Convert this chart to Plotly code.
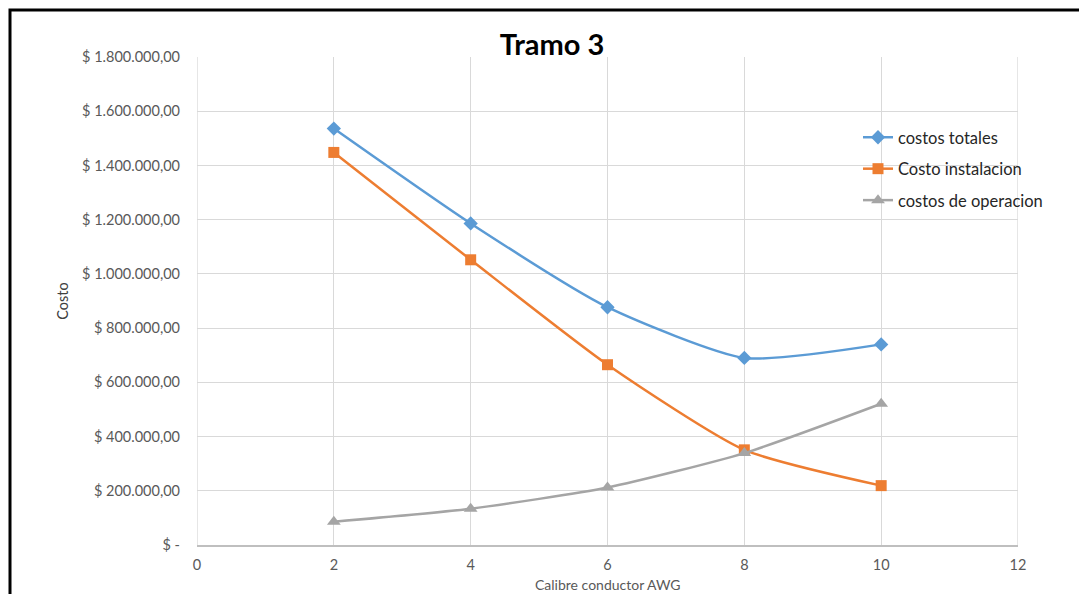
import plotly.graph_objects as go

calibre = [2, 4, 6, 8, 10]
costos_totales = [1536000, 1186000, 877000, 690000, 740000]
costo_instalacion = [1448000, 1052000, 665000, 351000, 219000]
costos_operacion = [86000, 134000, 212000, 339000, 521000]

y_tickvals = [0, 200000, 400000, 600000, 800000, 1000000, 1200000, 1400000, 1600000, 1800000]
y_ticktext = ["$ -", "$ 200.000,00", "$ 400.000,00", "$ 600.000,00", "$ 800.000,00",
              "$ 1.000.000,00", "$ 1.200.000,00", "$ 1.400.000,00", "$ 1.600.000,00", "$ 1.800.000,00"]
x_tickvals = [0, 2, 4, 6, 8, 10, 12]
x_title = "Calibre conductor AWG"

W, H = 1079, 594
ML, MR, MT, MB = 197, 61, 57, 49
PW, PH = W - ML - MR, H - MT - MB


def px_x(px):
    return (px - ML) / PW


def px_y(py):
    return (H - MB - py) / PH


FONT = "Lato"
fig = go.Figure()
fig.add_trace(go.Scatter(x=calibre, y=costos_totales, name="costos totales", mode="lines+markers",
                         legendgroup="a",
                         line=dict(color="#5B9BD5", width=2.5, shape="spline", smoothing=0.6),
                         marker=dict(symbol="diamond", size=11, color="#5B9BD5")))
fig.add_trace(go.Scatter(x=calibre, y=costo_instalacion, name="Costo instalacion", mode="lines+markers",
                         legendgroup="b",
                         line=dict(color="#ED7D31", width=2.5, shape="spline", smoothing=0.6),
                         marker=dict(symbol="square", size=11, color="#ED7D31")))
fig.add_trace(go.Scatter(x=calibre, y=costos_operacion, name="costos de operacion", mode="lines+markers",
                         legendgroup="c",
                         line=dict(color="#A5A5A5", width=2.5, shape="spline", smoothing=0.6),
                         marker=dict(symbol="triangle-up", size=12, color="#A5A5A5")))

fig.update_layout(
    width=W, height=H,
    margin=dict(l=ML, r=MR, t=MT, b=MB),
    paper_bgcolor="white", plot_bgcolor="white",
    font=dict(family=FONT, color="#595959", size=14),
    title=dict(text="<b>Tramo 3</b>", x=552/W, xanchor="center", y=1-45/H, yanchor="middle",
               font=dict(family=FONT, size=29, color="#000000")),
    showlegend=True,
    legend=dict(x=px_x(858), xanchor="left", y=px_y(120), yanchor="top",
                font=dict(family=FONT, size=16.5, color="#262626"), bgcolor="rgba(0,0,0,0)",
                tracegroupgap=7, itemwidth=30),
    xaxis=dict(range=[0, 12], tickvals=x_tickvals, showgrid=True, gridcolor="#D9D9D9", gridwidth=1.3,
               zeroline=False, showline=True, linecolor="#BFBFBF", linewidth=1.5, mirror=False,
               automargin=False,
               ticks="", ticklabelstandoff=6, tickfont=dict(size=14.5, color="#595959")),
    yaxis=dict(range=[0, 1800000], tickvals=y_tickvals, ticktext=y_ticktext, showgrid=True,
               automargin=False,
               gridcolor="#D9D9D9", gridwidth=1.3, zeroline=False, showline=False, ticks="",
               ticklabelstandoff=16, tickfont=dict(size=14.5, color="#595959"),
               title=dict(text="Costo", standoff=9, font=dict(size=14.5, color="#404040"))),
)
fig.add_annotation(text=x_title, xref="paper", yref="paper", x=0.5, y=px_y(594),
                   xanchor="center", yanchor="bottom", showarrow=False, borderpad=0,
                   font=dict(family=FONT, size=14, color="#595959"))
# right and left plot-area borders
fig.add_shape(type="line", xref="x", yref="paper", x0=12, x1=12, y0=0, y1=1, line=dict(color="#D9D9D9", width=1.3))
fig.add_shape(type="line", xref="x", yref="paper", x0=0, x1=0, y0=0, y1=1, line=dict(color="#D9D9D9", width=1.3))
# outer black frame
fig.add_shape(type="rect", xref="paper", yref="paper", x0=px_x(10), x1=1.2, y0=-0.3, y1=px_y(10),
              line=dict(color="black", width=3), layer="above")
fig.write_html("out.html", config={"displayModeBar": False},
               post_script="document.body.style.margin='0';")
